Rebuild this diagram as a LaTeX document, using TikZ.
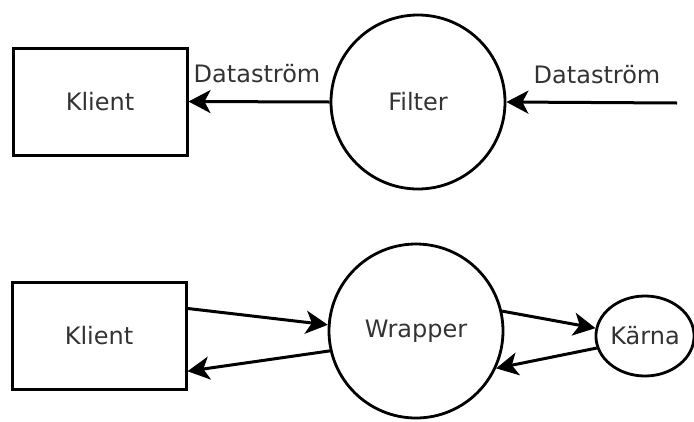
\documentclass[tikz,border=0pt]{standalone}
\usepackage{fontspec}
\setmainfont{DejaVu Sans}
\usetikzlibrary{arrows.meta,shapes.geometric}
\definecolor{txt}{rgb}{0.2,0.2,0.2}
\begin{document}
\begin{tikzpicture}[x=1pt,y=-1pt,
  every node/.style={font=\fontsize{24}{28}\selectfont, text=txt},
  box/.style={draw=black, line width=3pt, minimum width=174pt, minimum height=107pt, inner sep=0pt},
  proc/.style={draw=black, line width=2.8pt, circle, minimum size=174pt, inner sep=0pt},
  core/.style={draw=black, line width=2.8pt, ellipse, minimum width=96pt, minimum height=80pt, inner sep=0pt},
  flow/.style={line width=3pt, -{Stealth[length=22pt,width=23pt,inset=6pt]}},
  lbl/.style={anchor=base}]
  \useasboundingbox (0,0) rectangle (694,421);

  % upper part: filter between source and client
  \node[box]  (klient1) at (100,101.5) {Klient};
  \node[proc] (filter)  at (418,102)   {Filter};
  \coordinate (src) at (677,103);
  \draw[flow] (filter.west) -- (klient1.east);
  \draw[flow] (src) -- (filter.east);
  \node[lbl] (ds1) at (257,82) {Dataström};
  \node[lbl] (ds2) at (597,83) {Dataström};

  % lower part: wrapper around a core
  \node[box]  (klient2) at (99,335.5) {Klient};
  \node[proc] (wrapper) at (416,331)  {Wrapper};
  \node[core] (karna)   at (645,336)  {Kärna};
  \draw[flow] (klient2.17.4) -- (wrapper.176);
  \draw[flow] (wrapper.193.6) -- (klient2.-22.5);
  \draw[flow] (wrapper.13) -- (karna.171);
  \draw[flow] (karna.194) -- (wrapper.-25);
\end{tikzpicture}
\end{document}
